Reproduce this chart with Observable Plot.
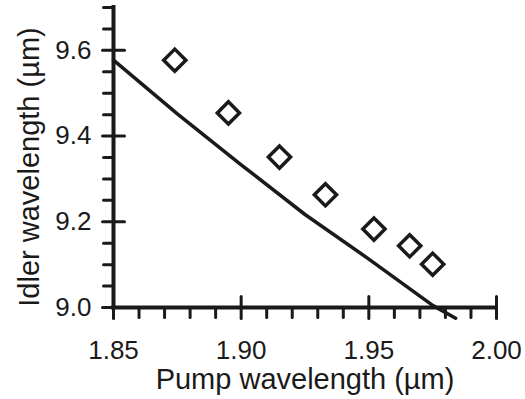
<!DOCTYPE html>
<html>
<head>
<meta charset="utf-8">
<script src="https://cdn.jsdelivr.net/npm/d3@7"></script>
<script src="https://cdn.jsdelivr.net/npm/@observablehq/plot@0.6"></script>
<style>
  html, body { margin: 0; padding: 0; background: #fff; }
  #chart { width: 525px; height: 399px; }
</style>
</head>
<body>
<div id="chart"></div>
<script>
// Measured points (diamonds)
const pumpMeasured = [1.874, 1.895, 1.915, 1.933, 1.952, 1.966, 1.975];
const idlerMeasured = [9.577, 9.454, 9.351, 9.263, 9.183, 9.144, 9.101];

// Theory curve (solid line)
const pumpTheory = [1.85, 1.875, 1.90, 1.925, 1.95, 1.975, 1.984];
const idlerTheory = [9.577, 9.452, 9.333, 9.217, 9.113, 9.005, 8.975];

// Axis ticks and labels
const xMajor = [1.85, 1.90, 1.95, 2.00];
const xMinor = [1.86, 1.87, 1.88, 1.89, 1.91, 1.92, 1.93, 1.94, 1.96, 1.97, 1.98, 1.99];
const yMajor = [9.0, 9.2, 9.4, 9.6];
const yMinor = [9.05, 9.1, 9.15, 9.25, 9.3, 9.35, 9.45, 9.5, 9.55, 9.65, 9.7];
const xTitle = "Pump wavelength (\u00b5m)";
const yTitle = "Idler wavelength (\u00b5m)";

const measured = pumpMeasured.map((x, i) => ({x, y: idlerMeasured[i]}));
const theory = pumpTheory.map((x, i) => ({x, y: idlerTheory[i]}));

const ink = "#1a1a1a";
const tickShape = {draw(context, l) { context.moveTo(0, 0); context.lineTo(0, -l); }};

const chart = Plot.plot({
  width: 525,
  height: 399,
  marginLeft: 113,
  marginRight: 29,
  marginTop: 7,
  marginBottom: 92,
  style: {fontFamily: "'Liberation Sans', Arial, sans-serif", background: "#fff", color: ink},
  x: {domain: [1.85, 2.00], axis: null},
  y: {domain: [9.0, 9.7], axis: null},
  marks: [
    // axis lines
    Plot.ruleY([9.0], {x1: 1.85, x2: 2.00, stroke: ink, strokeWidth: 4, strokeLinecap: "square"}),
    Plot.ruleX([1.85], {y1: 9.0, y2: 9.7, stroke: ink, strokeWidth: 4, strokeLinecap: "square"}),
    // x ticks
    Plot.vector(xMajor, {x: d => d, y: 9.0, length: 22, rotate: 0, anchor: "middle", shape: tickShape, stroke: ink, strokeWidth: 3}),
    Plot.vector(xMinor, {x: d => d, y: 9.0, length: 10, rotate: 180, anchor: "start", shape: tickShape, stroke: ink, strokeWidth: 3}),
    // y ticks
    Plot.vector(yMajor, {x: 1.85, y: d => d, length: 22, rotate: 90, anchor: "middle", shape: tickShape, stroke: ink, strokeWidth: 3}),
    Plot.vector(yMinor, {x: 1.85, y: d => d, length: 10, rotate: -90, anchor: "start", shape: tickShape, stroke: ink, strokeWidth: 3}),
    // tick labels
    Plot.text(xMajor, {x: d => d, y: 9.0, text: d => d.toFixed(2), dy: 43, lineAnchor: "middle", fontSize: 26, fill: ink, letterSpacing: "1.5px"}),
    Plot.text(yMajor, {x: 1.85, y: d => d, text: d => d.toFixed(1), textAnchor: "end", lineAnchor: "middle", dx: -22, fontSize: 26, fill: ink, letterSpacing: "1.5px"}),
    // titles
    Plot.text([xTitle], {frameAnchor: "bottom", text: d => d, dy: 72, lineAnchor: "middle", textAnchor: "middle", fontSize: 29, fill: ink}),
    Plot.text([yTitle], {frameAnchor: "left", text: d => d, rotate: -90, dx: -84, dy: 9.5, lineAnchor: "middle", textAnchor: "middle", fontSize: 29, fill: ink}),
    // theory line
    Plot.line(theory, {x: "x", y: "y", stroke: ink, strokeWidth: 3.5, clip: false}),
    // measured diamonds
    Plot.dot(measured, {x: "x", y: "y", symbol: "diamond2", r: 10, stroke: ink, strokeWidth: 3.5, fill: "none"})
  ]
});

document.getElementById("chart").appendChild(chart);
</script>
</body>
</html>
